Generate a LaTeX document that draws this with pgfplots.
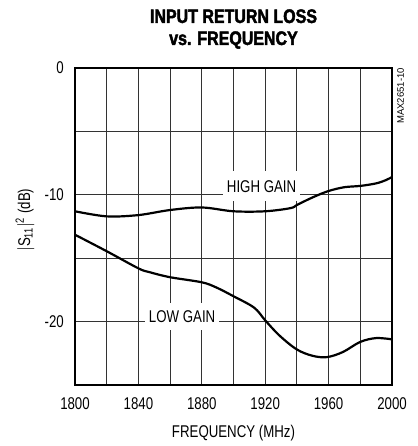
\documentclass[border=0pt]{standalone}
\usepackage{fontspec}
\setmainfont{Liberation Sans}[FakeStretch=0.78]
\newfontfamily\titlefont{Liberation Sans}[FakeStretch=0.82, FakeBold=2.2]
\newfontfamily\plainfont{Liberation Sans}
\usepackage{pgfplots}
\pgfplotsset{compat=1.18}

\begin{document}
\begin{tikzpicture}[x=1pt,y=1pt]
\useasboundingbox (0,0) rectangle (417,446);
\begin{axis}[
    at={(75pt,61pt)}, anchor=south west,
    scale only axis,
    width=317pt, height=317pt,
    xmin=1800, xmax=2000,
    ymin=-25, ymax=0,
    xtick={1800,1840,...,2000},
    minor xtick={1820,1860,...,1980},
    ytick={0,-10,-20},
    minor ytick={-5,-15},
    grid=both,
    major grid style={black!80, line width=0.9pt},
    minor grid style={black!80, line width=0.9pt},
    major tick length=0pt, minor tick length=0pt,
    axis line style={line width=2.8pt},
    font=\fontsize{17}{20}\selectfont,
    /pgf/number format/assume math mode=true,
    /pgf/number format/set thousands separator={},
    xticklabel style={yshift=-9pt},
    yticklabel style={xshift=-7.6pt},
    title={INPUT RETURN LOSS\\vs. FREQUENCY},
    title style={font=\titlefont\bfseries\fontsize{19.5}{22}\selectfont,
        align=center, at={(rel axis cs:0.5,1)}, anchor=south,
        inner sep=0pt, yshift=13pt},
    xlabel={FREQUENCY (MHz)},
    xlabel style={at={(rel axis cs:0.5,0)}, anchor=base, yshift=-52.7pt},
    ylabel={$|$S\textsubscript{11}$|$\textsuperscript{2} (dB)},
    ylabel style={at={(rel axis cs:-0.158,0.52)}, anchor=center},
]
    % high gain
    \addplot[black, line width=2.2pt, smooth, tension=0.55] coordinates {
        (1800,-11.3) (1820,-11.7) (1840,-11.6) (1860,-11.2) (1880,-11.0)
        (1900,-11.3) (1920,-11.3) (1936,-11.05) (1940,-10.8) (1950,-10.2)
        (1960,-9.7) (1970,-9.4) (1980,-9.3) (1990,-9.1) (1996,-8.85) (2000,-8.6)
    };
    % low gain
    \addplot[black, line width=2.2pt, smooth, tension=0.55] coordinates {
        (1800,-13.15) (1820,-14.45) (1840,-15.8) (1847,-16.1) (1860,-16.5)
        (1880,-16.9) (1889,-17.3) (1900,-18.0) (1913,-18.9) (1920,-19.9)
        (1929,-21.1) (1940,-22.2) (1950,-22.7) (1959,-22.8) (1969,-22.4)
        (1980,-21.6) (1990,-21.3) (2000,-21.4)
    };
    \node[fill=white, inner xsep=4pt, inner ysep=8.9pt, text height=12.2pt, text depth=0pt]
        at (axis cs:1917.7,-9.3) {HIGH GAIN};
    \node[fill=white, inner xsep=4pt, inner ysep=7.4pt, text height=12.2pt, text depth=0pt]
        at (axis cs:1867.6,-19.6) {LOW GAIN};
\end{axis}
\node[font=\plainfont\fontsize{9.5}{10}\selectfont, rotate=90, anchor=east, inner sep=0pt]
    at (400.7,378) {MAX2651-10};
\end{tikzpicture}
\end{document}
